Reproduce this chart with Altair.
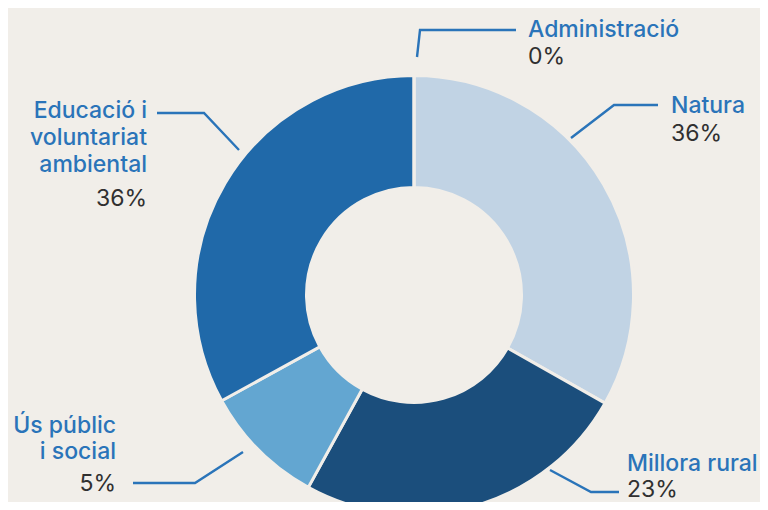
import altair as alt
import pandas as pd

# ---------------- data ----------------
categories = ["Natura", "Millora rural", "Ús públic i social",
              "Educació i voluntariat ambiental", "Administració"]
values = [33.2, 24.8, 9.0, 33.0, 0.0]          # slice sizes as drawn
pct_labels = ["36%", "23%", "5%", "36%", "0%"]  # printed labels
name_lines = [["Natura"], ["Millora rural"], ["Ús públic", "i social"],
              ["Educació i", "voluntariat", "ambiental"], ["Administració"]]

# ---------------- style / layout ----------------
BG = "#f1eee9"
BLUE_TXT = "#2a74b9"
GREY_TXT = "#303030"
colors = ["#c1d3e4", "#1b4e7c", "#63a6d1", "#2069a9", "#2069a9"]
FONT = "Inter"
FS = 23
W, H = 752, 494
OFF = 8  # page margin

# label anchors (page coordinates): x, align, name baselines, pct baseline
label_layout = [
    (671, "left", [113], 141),
    (627, "left", [471], 497),
    (116, "right", [433, 459], 491),
    (147, "right", [118, 145, 172], 206),
    (528, "left", [37], 64),
]
# leader polylines (page coordinates)
leaders = [
    [(571, 138), (614, 105), (658, 105)],
    [(550, 470), (591, 492), (619, 492)],
    [(133, 483), (195, 483), (243, 452)],
    [(157, 113), (204, 113), (239, 150)],
    [(417, 57), (420, 30), (516, 30)],
]

# ---------------- tables ----------------
arc_df = pd.DataFrame({"cat": categories, "val": values, "ord": list(range(len(categories)))})

rows = []
for i, cat in enumerate(categories):
    x, align, bls, pb = label_layout[i]
    for line, bl in zip(name_lines[i], bls):
        rows.append({"x": x - OFF, "y": bl - OFF, "text": line, "align": align, "kind": "name"})
    rows.append({"x": x - OFF, "y": pb - OFF, "text": pct_labels[i], "align": align, "kind": "pct"})
txt_df = pd.DataFrame(rows)

lrows = []
for i, pts in enumerate(leaders):
    for j, (px, py) in enumerate(pts):
        lrows.append({"id": categories[i], "seq": j, "x": px - OFF, "y": py - OFF})
lead_df = pd.DataFrame(lrows)

xs = alt.Scale(domain=[0, W], range=[0, W], nice=False, zero=False)
ys = alt.Scale(domain=[0, H], range=[0, H], nice=False, zero=False)

arcs = alt.Chart(arc_df).mark_arc(
    x=414 - OFF, y=295 - OFF, outerRadius=219.5, innerRadius=107.5,
    stroke=BG, strokeWidth=3
).encode(
    theta=alt.Theta("val:Q", stack=True),
    color=alt.Color("cat:N", scale=alt.Scale(domain=categories, range=colors), legend=None),
    order=alt.Order("ord:Q"),
)

lines = alt.Chart(lead_df).mark_line(
    color=BLUE_TXT, strokeWidth=2.4, strokeCap="butt", strokeJoin="miter"
).encode(
    x=alt.X("x:Q", scale=xs, axis=None),
    y=alt.Y("y:Q", scale=ys, axis=None),
    detail="id:N",
    order="seq:Q",
)

def text_layer(kind, align, color, weight):
    return alt.Chart(txt_df).transform_filter(
        (alt.datum.kind == kind) & (alt.datum.align == align)
    ).mark_text(
        align=align, baseline="alphabetic", font=FONT, fontSize=FS,
        fontWeight=weight, color=color
    ).encode(
        x=alt.X("x:Q", scale=xs, axis=None),
        y=alt.Y("y:Q", scale=ys, axis=None),
        text="text:N",
    )

layers = [arcs, lines,
          text_layer("name", "left", BLUE_TXT, 500),
          text_layer("name", "right", BLUE_TXT, 500),
          text_layer("pct", "left", GREY_TXT, 400),
          text_layer("pct", "right", GREY_TXT, 400)]

chart = alt.layer(*layers).properties(
    width=W, height=H, background=BG, padding=0,
    autosize=alt.AutoSizeParams(type="none"),
).configure_view(stroke=None)

chart.save("out.html", embed_options={"renderer": "svg", "actions": False})
